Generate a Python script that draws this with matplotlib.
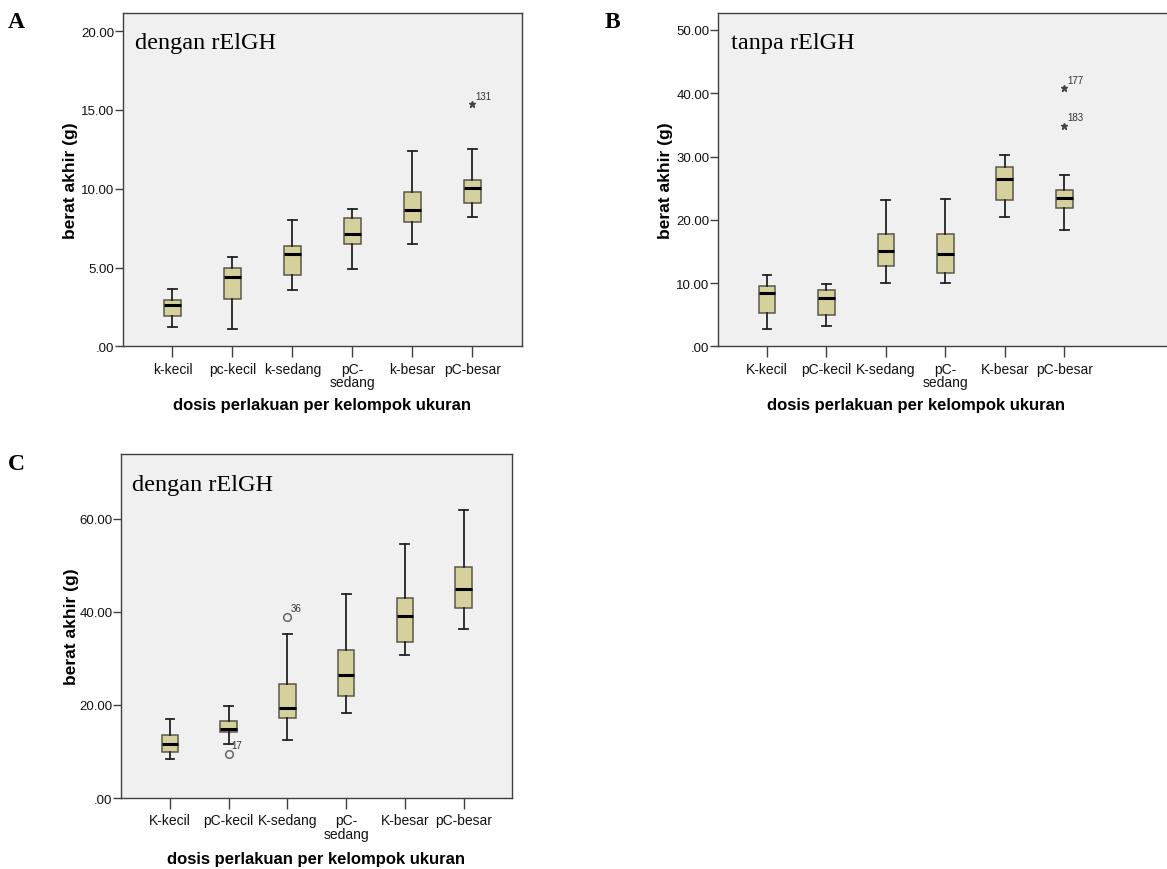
import matplotlib
matplotlib.use('Agg')
import matplotlib.pyplot as plt
from matplotlib.ticker import FuncFormatter

plt.rcParams['font.family'] = ['Liberation Sans', 'DejaVu Sans']

# panel A: dengan rElGH
a_labels = ['k-kecil', 'pc-kecil', 'k-sedang', 'pC-\nsedang', 'k-besar', 'pC-besar']
a_lo = [1.23, 1.10, 3.60, 4.91, 6.50, 8.19]
a_q1 = [1.90, 3.03, 4.51, 6.52, 7.89, 9.12]
a_med = [2.65, 4.42, 5.88, 7.13, 8.63, 10.05]
a_q3 = [2.94, 4.95, 6.37, 8.15, 9.82, 10.58]
a_hi = [3.62, 5.69, 8.00, 8.72, 12.42, 12.55]
a_out = [[], [], [], [], [], [15.37]]
a_out_id = [[], [], [], [], [], ['131']]

# panel B: tanpa rElGH
b_labels = ['K-kecil', 'pC-kecil', 'K-sedang', 'pC-\nsedang', 'K-besar', 'pC-besar']
b_lo = [2.69, 3.27, 10.06, 10.01, 20.50, 18.39]
b_q1 = [5.27, 5.00, 12.70, 11.54, 23.08, 21.87]
b_med = [8.48, 7.64, 15.07, 14.54, 26.50, 23.45]
b_q3 = [9.48, 8.96, 17.81, 17.76, 28.40, 24.76]
b_hi = [11.22, 9.85, 23.08, 23.24, 30.24, 27.13]
b_out = [[], [], [], [], [], [40.78, 34.88]]
b_out_id = [[], [], [], [], [], ['177', '183']]

# panel C: dengan rElGH
c_labels = ['K-kecil', 'pC-kecil', 'K-sedang', 'pC-\nsedang', 'K-besar', 'pC-besar']
c_lo = [8.45, 11.67, 12.46, 18.25, 30.78, 36.22]
c_q1 = [9.95, 14.10, 17.25, 21.83, 33.43, 40.73]
c_med = [11.52, 14.89, 19.26, 26.34, 39.16, 44.88]
c_q3 = [13.46, 16.46, 24.48, 31.78, 43.02, 49.68]
c_hi = [16.97, 19.69, 35.15, 43.74, 54.62, 61.92]
c_out = [[], [9.52], [38.94], [], [], []]
c_out_id = [[], ['17'], ['36'], [], [], []]

BOX = '#d5d09c'
EDGE = '#58584a'
BG = '#f0f0f0'
AXC = '#404040'


def spss_fmt(v, pos):
    s = '%.2f' % v
    return s[1:] if s.startswith('0') else s


def boxpanel(ax, labels, lo, q1, med, q3, hi, out, out_id, marker, ylim, yticks, xlim, note):
    stats = []
    for i in range(len(labels)):
        stats.append(dict(whislo=lo[i], q1=q1[i], med=med[i], q3=q3[i],
                          whishi=hi[i], fliers=out[i]))
    if marker == '*':
        fp = dict(marker='*', markersize=5, markerfacecolor='#444444',
                  markeredgecolor='#444444', linestyle='none')
    else:
        fp = dict(marker='o', markersize=5.5, markerfacecolor='none',
                  markeredgecolor='#666666', markeredgewidth=1.1, linestyle='none')
    ax.bxp(stats, positions=range(len(labels)), widths=0.28, patch_artist=True,
           boxprops=dict(facecolor=BOX, edgecolor=EDGE, linewidth=1.1),
           medianprops=dict(color='black', linewidth=2.2),
           whiskerprops=dict(color='#222222', linewidth=1.3),
           capprops=dict(color='#222222', linewidth=1.3),
           capwidths=0.15, flierprops=fp)
    for i in range(len(labels)):
        for v, t in zip(out[i], out_id[i]):
            ax.annotate(t, (i, v), xytext=(2, 4), textcoords='offset points',
                        fontsize=7, color='#333333')
    ax.set_facecolor(BG)
    ax.set_xlim(xlim)
    ax.set_ylim(ylim)
    ax.set_yticks(yticks)
    ax.yaxis.set_major_formatter(FuncFormatter(spss_fmt))
    ax.set_xticks(range(len(labels)))
    ax.set_xticklabels(labels, fontsize=10, linespacing=0.95, color='#111111')
    ax.tick_params(axis='y', length=6, width=1, color=AXC, labelsize=9.5, pad=0, labelcolor='#111111')
    ax.tick_params(axis='x', length=8, width=1, color=AXC, pad=3)
    for sp in ax.spines.values():
        sp.set_color(AXC)
        sp.set_linewidth(1)
    ax.set_ylabel('berat akhir (g)', fontsize=12.5, fontweight='bold')
    ax.set_xlabel('dosis perlakuan per kelompok ukuran', fontsize=12, fontweight='bold')
    ax.text(0.03, 0.895, note, transform=ax.transAxes, fontsize=17.5,
            family='Liberation Serif', va='baseline')


fig = plt.figure(figsize=(11.67, 8.7), dpi=100)

ax_a = fig.add_axes([0.1051, 0.6008, 0.3419, 0.3828])
boxpanel(ax_a, a_labels, a_lo, a_q1, a_med, a_q3, a_hi, a_out, a_out_id, '*',
         (0, 21.14), [0, 5, 10, 15, 20], (-0.83, 5.82), 'dengan rElGH')
ax_a.yaxis.set_label_coords(-0.112, 0.5)
ax_a.xaxis.set_label_coords(0.5, -0.152)

ax_b = fig.add_axes([0.615, 0.6008, 0.3876, 0.3828])
boxpanel(ax_b, b_labels, b_lo, b_q1, b_med, b_q3, b_hi, b_out, b_out_id, '*',
         (0, 52.64), [0, 10, 20, 30, 40, 50], (-0.83, 6.78), 'tanpa rElGH')
ax_b.yaxis.set_label_coords(-0.099, 0.5)
ax_b.xaxis.set_label_coords(0.438, -0.152)

ax_c = fig.add_axes([0.1034, 0.0816, 0.3356, 0.395])
boxpanel(ax_c, c_labels, c_lo, c_q1, c_med, c_q3, c_hi, c_out, c_out_id, 'o',
         (0, 73.8), [0, 20, 40, 60], (-0.84, 5.83), 'dengan rElGH')
ax_c.yaxis.set_label_coords(-0.106, 0.5)
ax_c.xaxis.set_label_coords(0.5, -0.153)

for lab, x, y in [('A', 0.007, 0.968), ('B', 0.518, 0.968), ('C', 0.007, 0.46)]:
    fig.text(x, y, lab, fontsize=17, fontweight='bold', family='Liberation Serif', va='baseline')

fig.savefig('out.png', dpi=100)
